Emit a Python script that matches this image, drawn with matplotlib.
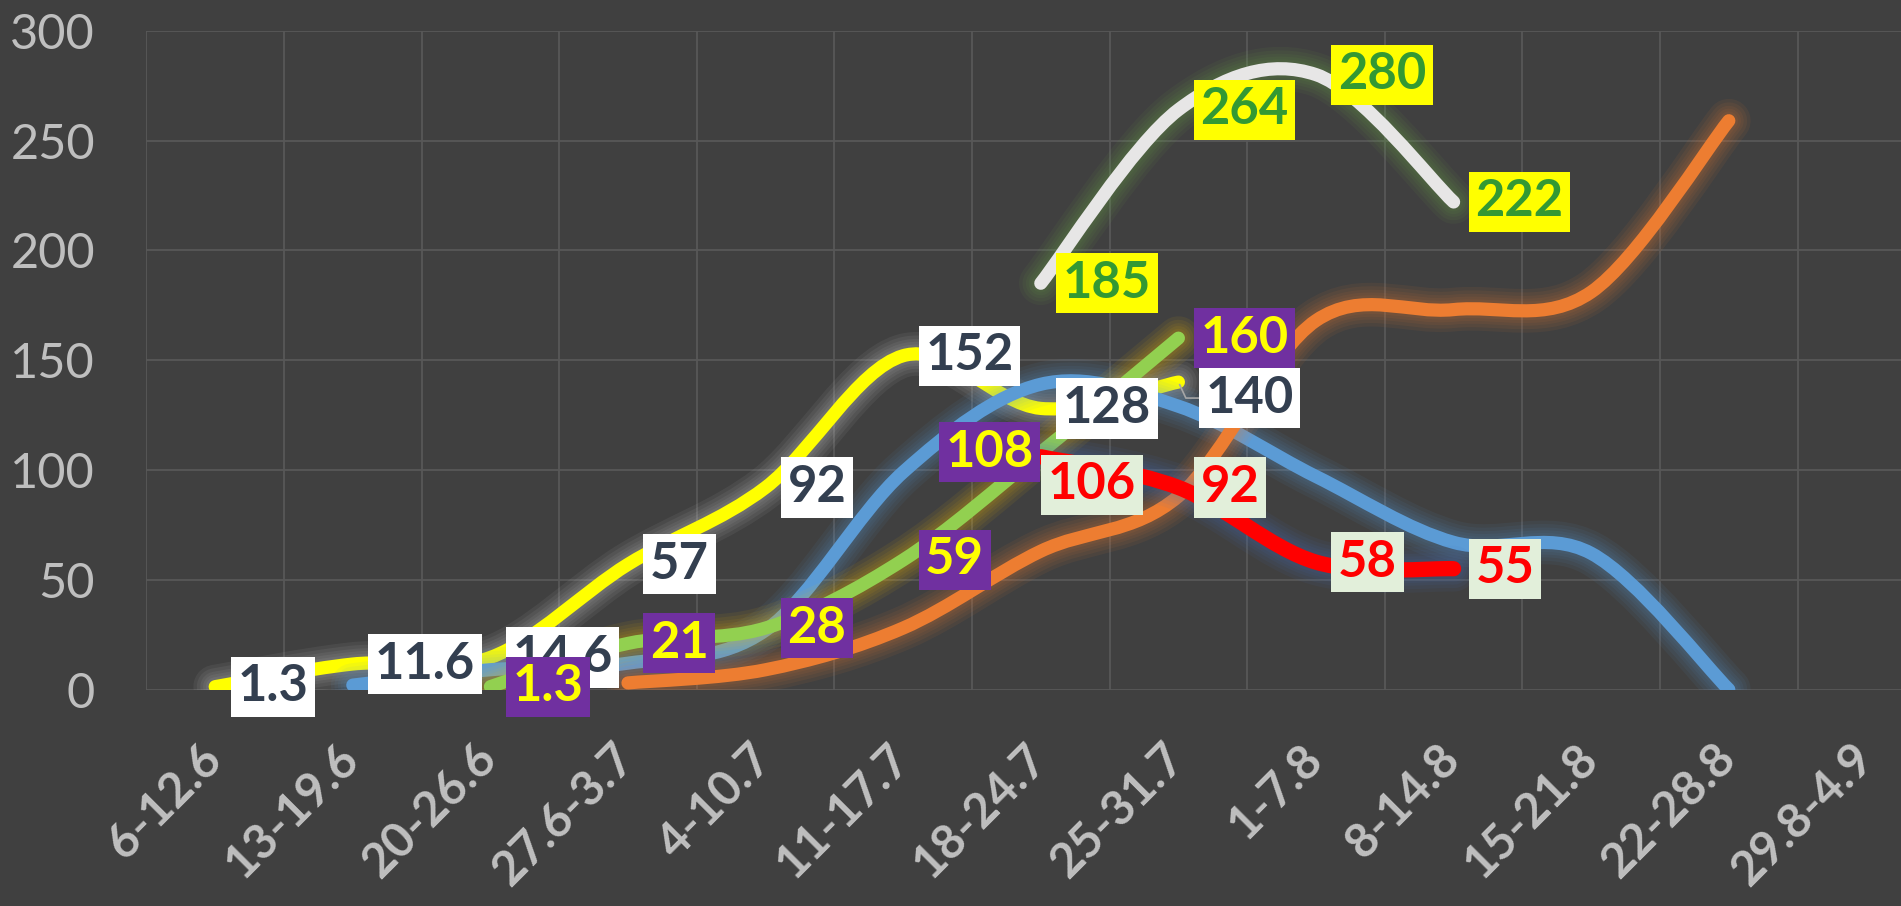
import numpy as np
import matplotlib.pyplot as plt
from matplotlib.path import Path
from matplotlib.patches import PathPatch
from matplotlib.transforms import offset_copy

# data
weeks = ["6-12.6", "13-19.6", "20-26.6", "27.6-3.7", "4-10.7", "11-17.7", "18-24.7",
         "25-31.7", "1-7.8", "8-14.8", "15-21.8", "22-28.8", "29.8-4.9"]

yellow_start = 0
yellow_vals = [1.3, 11.6, 14.6, 57, 92, 152, 128, 140]
blue_start = 1
blue_vals = [2, 9, 12, 27, 99, 139, 129, 97, 67, 62, 0]
green_start = 2
green_vals = [1.3, 21, 28, 59, 108, 160]
orange_start = 3
orange_vals = [3, 9, 28, 63, 88, 168, 173, 181, 259]
red_start = 6
red_vals = [106, 92, 58, 55]
grey_start = 6
grey_vals = [185, 264, 280, 222]

BG = "#404040"
GRID = "#585858"
TICK = "#BFBFBF"

plt.rcParams['font.family'] = ['Lato', 'DejaVu Sans']


def smooth_path(xs, ys):
    # excel-like smoothed line: cubic bezier through every point
    pts = np.column_stack([xs, ys]).astype(float)
    n = len(pts)
    verts = [pts[0]]
    codes = [Path.MOVETO]
    for i in range(n - 1):
        p0 = pts[i - 1] if i > 0 else pts[i]
        p1, p2 = pts[i], pts[i + 1]
        p3 = pts[i + 2] if i + 2 < n else pts[i + 1]
        verts += [p1 + (p2 - p0) / 6, p2 - (p3 - p1) / 6, p2]
        codes += [Path.CURVE4] * 3
    return Path(verts, codes)


def glow_line(ax, xs, ys, color, glow, lw, z):
    path = smooth_path(xs, ys)
    for extra in [22, 17, 12, 8, 4]:
        ax.add_patch(PathPatch(path, fill=False, edgecolor=glow, lw=lw + extra,
                               alpha=0.07, capstyle='round', joinstyle='round', zorder=z))
    ax.add_patch(PathPatch(path, fill=False, edgecolor=color, lw=lw,
                           capstyle='round', joinstyle='round', zorder=z + 0.5))


fig = plt.figure(figsize=(19.01, 9.06), dpi=100, facecolor=BG)
ax = fig.add_axes([0.07701, 0.23896, 0.94098, 0.72715])
ax.set_facecolor(BG)
ax.set_xlim(-0.5, 12.5)
ax.set_ylim(0, 300)

ax.set_yticks(range(0, 301, 50))
ax.set_xticks(range(len(weeks)))
ax.set_xticklabels([])
ax.set_xticks(np.arange(-0.5, len(weeks), 1), minor=True)
ax.grid(which='minor', axis='x', color=GRID, lw=1.3)
ax.grid(which='major', axis='y', color=GRID, lw=1.3)
ax.tick_params(which='both', length=0)
ax.tick_params(axis='y', pad=37, labelsize=35, labelcolor=TICK)
for s in ax.spines.values():
    s.set_visible(False)
ax.set_axisbelow(True)

# category labels, rotated, end of baseline just under each category
lab_tr = offset_copy(ax.transData, fig=fig, x=9, y=-72, units='dots')
for i, w in enumerate(weeks):
    ax.text(i, 0, w, transform=lab_tr, rotation=45, rotation_mode='anchor',
            ha='right', va='baseline', fontsize=34.5, fontweight='bold', color=TICK)

series = [
    (yellow_start, yellow_vals, "#FFFF00", "#D9D9D9", 9.5),
    (blue_start, blue_vals, "#5B9BD5", "#5B9BD5", 9.5),
    (green_start, green_vals, "#92D050", "#FFC000", 9.5),
    (orange_start, orange_vals, "#ED7D31", "#ED7D31", 9.5),
    (red_start, red_vals, "#FF0000", "#4472C4", 11),
    (grey_start, grey_vals, "#E7E6E6", "#70AD47", 9.5),
]
for k, (start, vals, color, glow, lw) in enumerate(series):
    xs = np.arange(start, start + len(vals))
    glow_line(ax, xs, vals, color, glow, lw, 2 + k)

# data labels: (start, values, box colour, text colour, per-point shifts in pixels)
DX = 22
labels = [
    (yellow_start, yellow_vals, "#FFFFFF", "#333F50",
     [(DX, 0)] * 7 + [(DX + 5, -16)]),
    (green_start, green_vals, "#7030A0", "#FFFF00",
     [(DX, 0)] * 4 + [(-7, 0), (DX, 0)]),
    (red_start, red_vals, "#E2EFDA", "#FF0000",
     [(7, -28), (DX, 0), (DX, 0), (DX, 0)]),
    (grey_start, grey_vals, "#FFFF00", "#339933",
     [(DX, 0)] * 4),
]
for k, (start, vals, box, txt, shifts) in enumerate(labels):
    for i, v in enumerate(vals):
        dx, dy = shifts[i]
        ha = 'left' if dx > 0 else 'right'
        extra = {}
        if dy != 0 and dx > DX:
            extra = dict(arrowprops=dict(arrowstyle='-', color='#A6A6A6', lw=1.2,
                                         shrinkA=0, shrinkB=2,
                                         connectionstyle='angle,angleA=0,angleB=-65,rad=0'))
        ax.annotate(f"{v:g}", xy=(start + i, v), xytext=(dx, dy),
                    textcoords='offset pixels', ha=ha, va='center',
                    fontsize=36.5, fontweight='bold', color=txt, zorder=20 + k,
                    bbox=dict(boxstyle='square,pad=0.13', fc=box, ec='none'),
                    annotation_clip=False, **extra)

fig.savefig("out.png", dpi=100, facecolor=BG)
